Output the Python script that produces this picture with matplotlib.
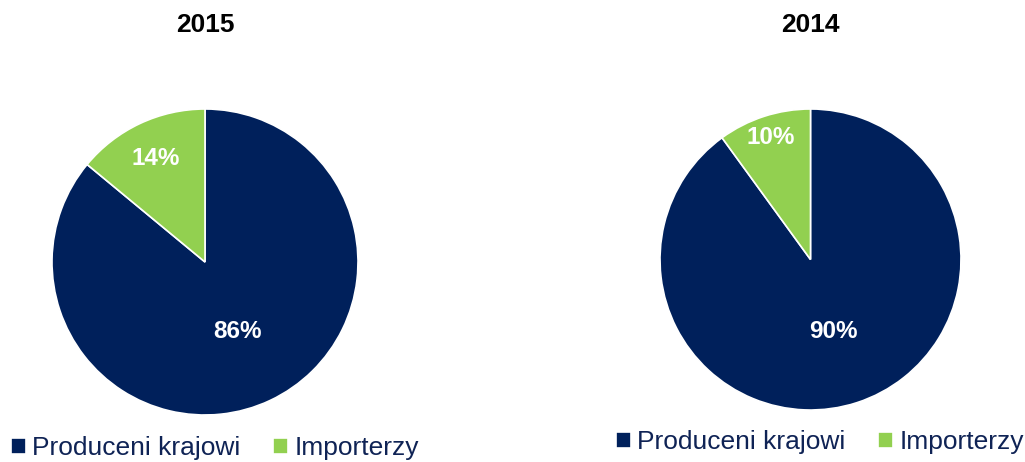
import numpy as np
import matplotlib.pyplot as plt

plt.rcParams["font.family"] = ["Liberation Sans", "DejaVu Sans"]

years = ["2015", "2014"]
categories = ["Produceni krajowi", "Importerzy"]
shares_2015 = [86, 14]
shares_2014 = [90, 10]

NAVY = "#00205B"
GREEN = "#92D050"
TEXT = "#0F2355"

fig = plt.figure(figsize=(10.25, 4.62), dpi=100)

# pie boxes in pixels: (left, top, size)
boxes = [(52, 109, 306), (660, 109, 301)]
label_dist = [[0.5, 0.75], [0.5, 0.85]]
legend_pos = [(11, 448), (616, 442)]

for i, (year, shares) in enumerate(zip(years, [shares_2015, shares_2014])):
    left, top, size = boxes[i]
    ax = fig.add_axes([left / 1025, (462 - top - size) / 462, size / 1025, size / 462])
    wedges, _ = ax.pie(shares, colors=[NAVY, GREEN], startangle=90, counterclock=False,
                       radius=1, wedgeprops=dict(edgecolor="white", linewidth=1.2))
    ax.set_xlim(-1, 1)
    ax.set_ylim(-1, 1)
    ax.set_aspect("auto")

    # percentage labels
    for w, val, d in zip(wedges, shares, label_dist[i]):
        ang = np.deg2rad((w.theta1 + w.theta2) / 2)
        ax.text(d * np.cos(ang), d * np.sin(ang), f"{val}%", ha="center", va="center",
                color="white", fontsize=17.5, fontweight="bold")

    fig.text((left + size / 2) / 1025, 1 - 25 / 462, year, ha="center", va="center",
             fontsize=19, fontweight="bold", color="black")

    lx, ly = legend_pos[i]
    fig.legend(wedges, categories, loc="center left", bbox_to_anchor=(lx / 1025, 1 - ly / 462),
               ncol=2, frameon=False, fontsize=19, labelcolor=TEXT,
               handlelength=0.55, handleheight=0.55, handletextpad=0.25, columnspacing=1.25,
               borderaxespad=0, borderpad=0)

fig.savefig("out.png", dpi=100)
